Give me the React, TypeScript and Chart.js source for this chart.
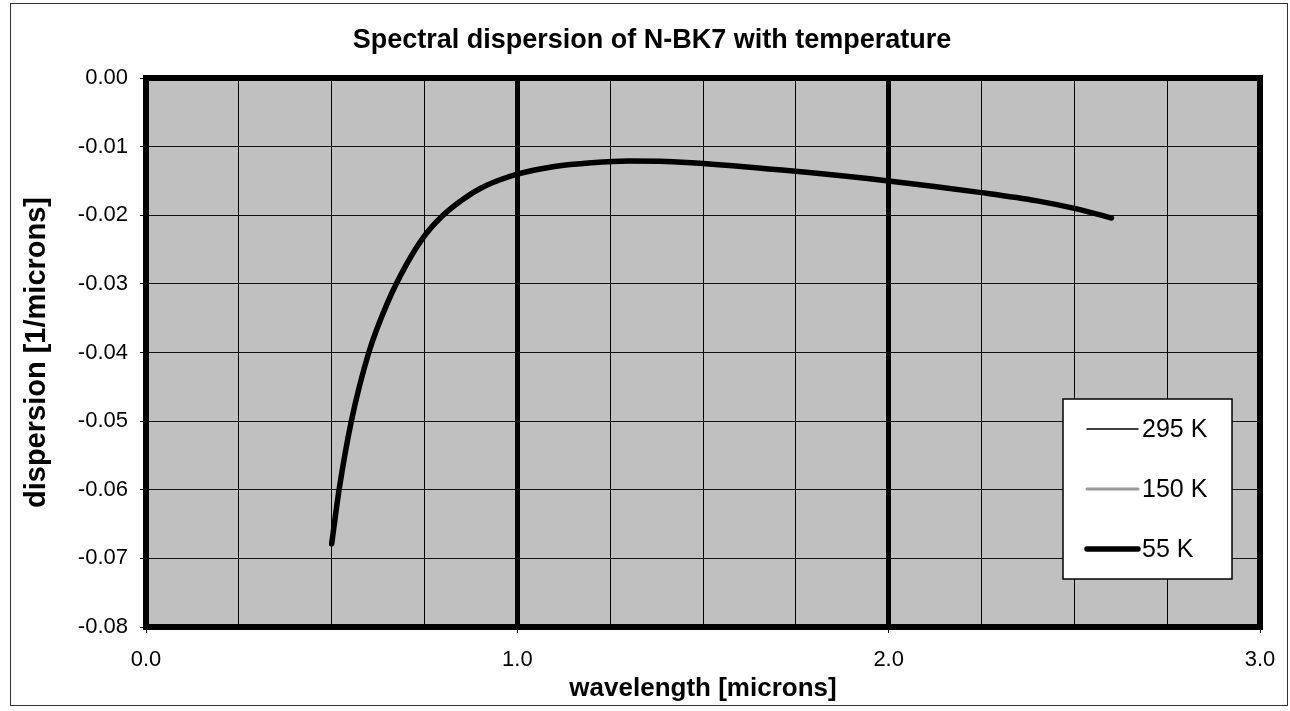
import React, { useEffect, useRef } from 'react';
import { Chart, registerables } from 'chart.js';

Chart.register(...registerables);

// ---- data ----
const titleText = 'Spectral dispersion of N-BK7 with temperature';
const xAxisTitle = 'wavelength [microns]';
const yAxisTitle = 'dispersion [1/microns]';

const seriesLabels = ['295 K', '150 K', '55 K'];

const wavelength55K = [0.5, 0.52, 0.553, 0.6, 0.65, 0.7, 0.75, 0.8, 0.85, 0.9, 0.95, 1.0, 1.1, 1.2, 1.3, 1.4, 1.5, 1.75, 2.0, 2.25, 2.4, 2.5, 2.6];
const dispersion55K = [-0.0679, -0.06, -0.05, -0.04, -0.0328, -0.0273, -0.023, -0.02, -0.0178, -0.0161, -0.0149, -0.014, -0.0129, -0.01235, -0.0121, -0.01215, -0.01245, -0.0136, -0.015, -0.0167, -0.0179, -0.019, -0.0204];

const xMin = 0;
const xMax = 3;
const xGridStep = 0.25;
const yMin = -0.08;
const yMax = 0;
const yStep = 0.01;

const FONT = '"Liberation Sans", Arial, Helvetica, sans-serif';

const isMajorX = (v: number) => Math.abs(v - Math.round(v)) < 1e-9;
const isThickX = (v: number) => Math.abs(v - 1) < 1e-9 || Math.abs(v - 2) < 1e-9;

const framePlugin = {
  id: 'frame',
  beforeDraw(chart: any) {
    const { ctx, chartArea, width, height } = chart;
    ctx.save();
    ctx.fillStyle = '#ffffff';
    ctx.fillRect(0, 0, width, height);
    ctx.fillStyle = '#c0c0c0';
    ctx.fillRect(chartArea.left, chartArea.top, chartArea.right - chartArea.left, chartArea.bottom - chartArea.top);
    ctx.restore();
  },
  afterDatasetsDraw(chart: any) {
    const { ctx, chartArea } = chart;
    ctx.save();
    ctx.strokeStyle = '#000000';
    ctx.lineWidth = 6;
    ctx.strokeRect(chartArea.left, chartArea.top, chartArea.right - chartArea.left, chartArea.bottom - chartArea.top);
    ctx.restore();
  },
  afterDraw(chart: any) {
    const { ctx } = chart;
    ctx.save();
    // outer border of the figure
    ctx.strokeStyle = '#333333';
    ctx.lineWidth = 1;
    ctx.strokeRect(10.5, 3.5, 1277, 702);

    // legend box
    const bx = 1063, by = 399, bw = 169, bh = 180;
    ctx.fillStyle = '#ffffff';
    ctx.fillRect(bx, by, bw, bh);
    ctx.strokeStyle = '#000000';
    ctx.lineWidth = 1.5;
    ctx.strokeRect(bx, by, bw, bh);

    const datasets = chart.data.datasets;
    const rowY = [429, 489, 549];
    datasets.forEach((ds: any, i: number) => {
      const y = rowY[i];
      ctx.beginPath();
      ctx.moveTo(1087, y);
      ctx.lineTo(1138, y);
      ctx.strokeStyle = ds.borderColor;
      ctx.lineWidth = ds.borderWidth;
      ctx.lineCap = 'round';
      ctx.stroke();
      ctx.fillStyle = '#000000';
      ctx.font = `25px ${FONT}`;
      ctx.textBaseline = 'middle';
      ctx.textAlign = 'left';
      ctx.fillText(ds.label, 1142, y + 1);
    });
    ctx.restore();
  },
};

export default function App() {
  const canvasRef = useRef<HTMLCanvasElement | null>(null);

  useEffect(() => {
    if (!canvasRef.current) return;
    const points55 = wavelength55K.map((x, i) => ({ x, y: dispersion55K[i] }));

    const chart = new Chart(canvasRef.current, {
      type: 'line',
      data: {
        datasets: [
          {
            label: seriesLabels[0],
            data: [],
            borderColor: '#000000',
            borderWidth: 1.5,
            pointRadius: 0,
          },
          {
            label: seriesLabels[1],
            data: [],
            borderColor: '#9a9a9a',
            borderWidth: 3,
            pointRadius: 0,
          },
          {
            label: seriesLabels[2],
            data: points55,
            borderColor: '#000000',
            borderWidth: 5.5,
            pointRadius: 0,
            cubicInterpolationMode: 'monotone',
            borderCapStyle: 'round',
            borderJoinStyle: 'round',
          },
        ],
      },
      options: {
        animation: false,
        responsive: false,
        maintainAspectRatio: false,
        layout: { padding: { left: 44, right: 30, top: 0, bottom: 0 } },
        plugins: {
          legend: { display: false },
          tooltip: { enabled: false },
          title: {
            display: true,
            text: titleText,
            color: '#000000',
            font: { family: FONT, size: 27, weight: 'bold' },
            padding: { top: 24, bottom: 21.6 },
          },
        },
        scales: {
          x: {
            type: 'linear',
            min: xMin,
            max: xMax,
            border: { display: false },
            afterFit: (scale: any) => {
              scale.height = 84;
            },
            ticks: {
              stepSize: xGridStep,
              autoSkip: false,
              maxRotation: 0,
              padding: 14,
              color: '#000000',
              font: { family: FONT, size: 22 },
              callback: (v: any) => (isMajorX(Number(v)) ? Number(v).toFixed(1) : ''),
            },
            grid: {
              color: '#000000',
              lineWidth: (ctx: any) => (ctx.tick && isThickX(ctx.tick.value) ? 5 : 1),
              tickColor: (ctx: any) => (ctx.tick && isMajorX(ctx.tick.value) ? '#000000' : 'rgba(0,0,0,0)'),
              tickLength: 6,
              tickWidth: 1,
            },
            title: {
              display: true,
              text: xAxisTitle,
              color: '#000000',
              font: { family: FONT, size: 26, weight: 'bold' },
              padding: { top: 0, bottom: 7 },
            },
          },
          y: {
            type: 'linear',
            min: yMin,
            max: yMax,
            border: { display: false },
            afterFit: (scale: any) => {
              scale.width = 102;
            },
            ticks: {
              stepSize: yStep,
              autoSkip: false,
              padding: 12,
              color: '#000000',
              font: { family: FONT, size: 22 },
              callback: (v: any) => Number(v).toFixed(2),
            },
            grid: {
              color: '#111111',
              lineWidth: 1,
              tickColor: '#000000',
              tickLength: 6,
              tickWidth: 1,
            },
            title: {
              display: true,
              text: yAxisTitle,
              color: '#000000',
              font: { family: FONT, size: 29, weight: 'bold' },
              padding: { top: -24, bottom: 0 },
            },
          },
        },
      },
      plugins: [framePlugin],
    } as any);

    return () => chart.destroy();
  }, []);

  return (
    <div style={{ position: 'fixed', left: 0, top: 0, width: 1290, height: 711, background: '#ffffff' }}>
      <canvas ref={canvasRef} width={1290} height={711} style={{ width: 1290, height: 711, display: 'block' }} />
    </div>
  );
}
